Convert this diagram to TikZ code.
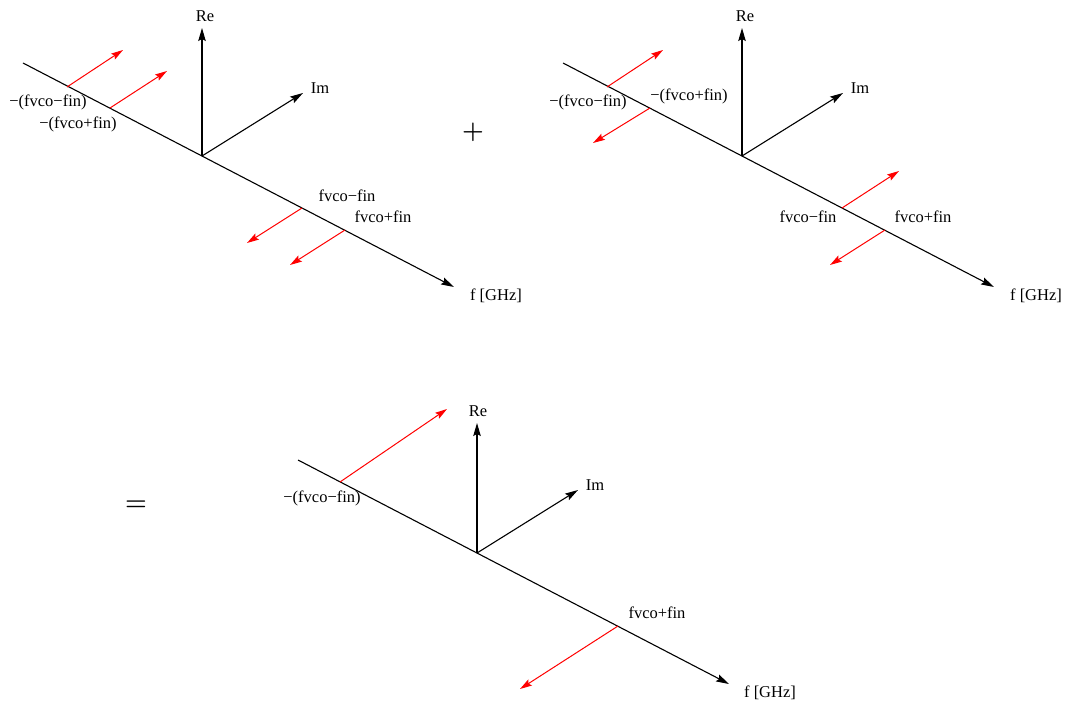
\documentclass[tikz,border=0pt]{standalone}
\usepackage{fontspec}
\setmainfont{Liberation Serif}
\usetikzlibrary{arrows.meta}
\begin{document}
\begin{tikzpicture}[x=1pt,y=-1pt,
  axis/.style={line width=1.1pt,-{Stealth[length=13pt,width=7.5pt,inset=2pt]}},
  phasor/.style={red,line width=1pt,-{Stealth[length=12pt,width=7pt,inset=2pt]}},
  lbl/.style={inner sep=0pt,font=\fontsize{16.5}{19}\selectfont},
  op/.style={inner sep=0pt,font=\fontsize{29}{32}\selectfont\boldmath}]
\useasboundingbox (0,0) rectangle (1067,703);
% ---------- panel 1 ----------
\coordinate (o1) at (202,156);
\coordinate (s1) at (23,63);
\coordinate (e1) at (454,287);
\coordinate (re1) at (202,28);
\coordinate (im1) at (303,93);
\coordinate (a1) at (67,87);   \coordinate (a1e) at (123,50);
\coordinate (b1) at (110,108); \coordinate (b1e) at (167,71);
\coordinate (c1) at (302,208); \coordinate (c1e) at (247,243);
\coordinate (d1) at (345,230); \coordinate (d1e) at (290,265);
\draw[axis] (s1) -- (e1);
\draw[axis] (o1) -- (re1);
\draw[axis] (o1) -- (im1);
\draw[phasor] (a1) -- (a1e);
\draw[phasor] (b1) -- (b1e);
\draw[phasor] (c1) -- (c1e);
\draw[phasor] (d1) -- (d1e);
\node[lbl] (re1l) at (205,16) {Re};
\node[lbl] (im1l) at (320,88) {Im};
\node[lbl] (f1l) at (496,296) {f [GHz]};
\node[lbl] (a1l) at (48,102) {−(fvco−fin)};
\node[lbl] (b1l) at (78,124) {−(fvco+fin)};
\node[lbl] (c1l) at (347,196) {fvco−fin};
\node[lbl] (d1l) at (383,217) {fvco+fin};
% ---------- plus ----------
\node[op] (plus) at (473,132) {$+$};
% ---------- panel 2 ----------
\coordinate (o2) at (742,156);
\coordinate (s2) at (563,63);
\coordinate (e2) at (994,287);
\coordinate (re2) at (742,28);
\coordinate (im2) at (843,93);
\coordinate (a2) at (607,87);  \coordinate (a2e) at (663,50);
\coordinate (b2) at (650,108); \coordinate (b2e) at (593,143);
\coordinate (c2) at (842,208); \coordinate (c2e) at (899,171);
\coordinate (d2) at (885,230); \coordinate (d2e) at (830,265);
\draw[axis] (s2) -- (e2);
\draw[axis] (o2) -- (re2);
\draw[axis] (o2) -- (im2);
\draw[phasor] (a2) -- (a2e);
\draw[phasor] (b2) -- (b2e);
\draw[phasor] (c2) -- (c2e);
\draw[phasor] (d2) -- (d2e);
\node[lbl] (re2l) at (745,16) {Re};
\node[lbl] (im2l) at (860,88) {Im};
\node[lbl] (f2l) at (1036,296) {f [GHz]};
\node[lbl] (a2l) at (588,102) {−(fvco−fin)};
\node[lbl] (b2l) at (689,96) {−(fvco+fin)};
\node[lbl] (c2l) at (808,217) {fvco−fin};
\node[lbl] (d2l) at (923,217) {fvco+fin};
% ---------- equals ----------
\node[op] (eq) at (136,506) {$=$};
% ---------- panel 3 ----------
\coordinate (o3) at (477,553);
\coordinate (s3) at (298,460);
\coordinate (e3) at (729,684);
\coordinate (re3) at (477,423);
\coordinate (im3) at (578,490);
\coordinate (a3) at (340,482); \coordinate (a3e) at (447,409);
\coordinate (d3) at (618,626); \coordinate (d3e) at (520,689);
\draw[axis] (s3) -- (e3);
\draw[axis] (o3) -- (re3);
\draw[axis] (o3) -- (im3);
\draw[phasor] (a3) -- (a3e);
\draw[phasor] (d3) -- (d3e);
\node[lbl] (re3l) at (478,411) {Re};
\node[lbl] (im3l) at (595,485) {Im};
\node[lbl] (f3l) at (770,693) {f [GHz]};
\node[lbl] (a3l) at (322,498) {−(fvco−fin)};
\node[lbl] (d3l) at (657,613) {fvco+fin};
\end{tikzpicture}
\end{document}
